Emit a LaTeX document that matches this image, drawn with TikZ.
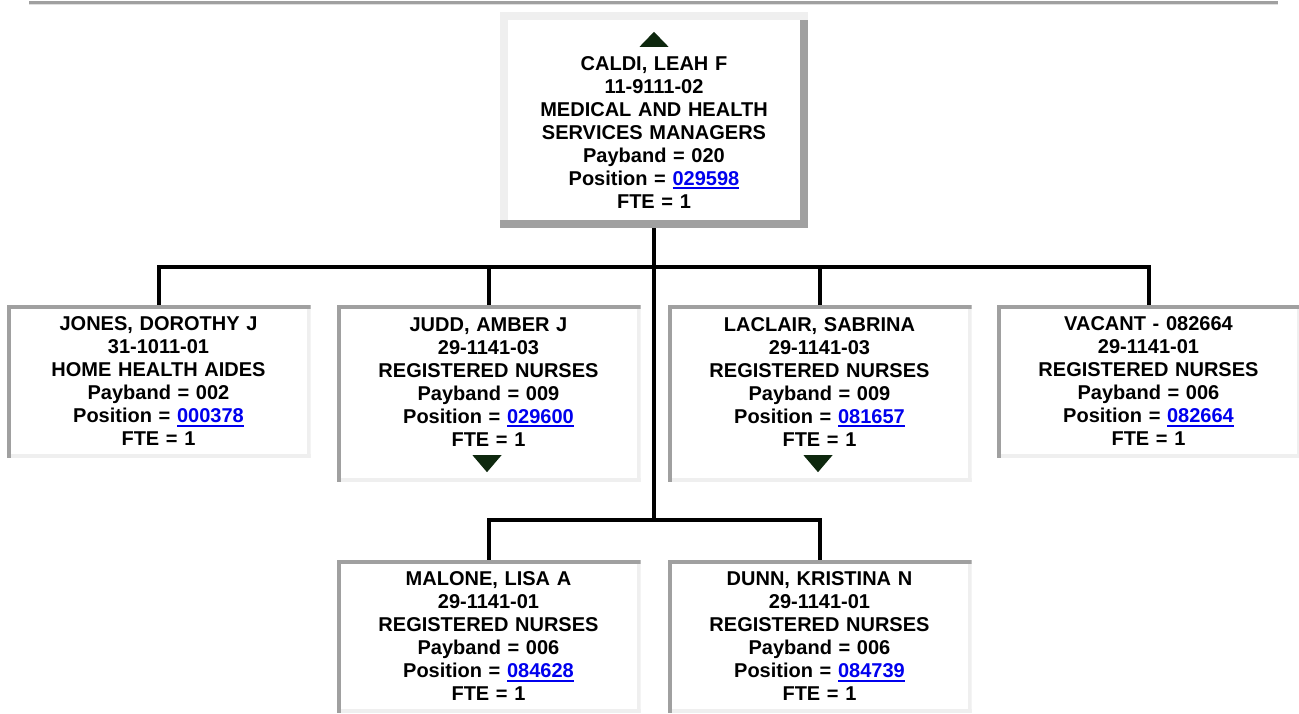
\documentclass[tikz,border=0pt]{standalone}
\usepackage{fontspec}
\setmainfont{Liberation Sans}
\definecolor{boxdark}{RGB}{160,160,160}
\definecolor{boxlight}{RGB}{239,239,239}
\definecolor{linkblue}{RGB}{0,0,238}
\definecolor{arrowgreen}{RGB}{14,40,14}
\newcommand\poslink[1]{\textcolor{linkblue}{\setbox0\hbox{#1}\rlap{\rule[-4pt]{\wd0}{2pt}}\box0}}
\tikzset{
	card/.style={fill=white, inner sep=0pt, text width=300pt, align=center, font=\bfseries\fontsize{20}{23}\selectfont},
	insetbox/.style={card, minimum width=304pt, minimum height=153pt,
		path picture={
			\fill[boxlight] (path picture bounding box.south west) rectangle ([yshift=4pt]path picture bounding box.south east);
			\fill[boxlight] ([xshift=-4pt]path picture bounding box.south east) rectangle (path picture bounding box.north east);
			\fill[boxdark] (path picture bounding box.north west) rectangle ([yshift=-4pt]path picture bounding box.north east);
			\fill[boxdark] (path picture bounding box.north west) rectangle ([xshift=4pt]path picture bounding box.south west);
		}},
	outsetbox/.style={card, minimum width=308pt, minimum height=216pt,
		path picture={
			\fill[boxdark] ([xshift=-8pt]path picture bounding box.south east) rectangle (path picture bounding box.north east);
			\fill[boxlight] (path picture bounding box.north west) rectangle ([yshift=-8pt]path picture bounding box.north east);
			\fill[boxlight] (path picture bounding box.north west) rectangle ([xshift=8pt]path picture bounding box.south west);
			\fill[boxdark] (path picture bounding box.south west) rectangle ([yshift=8pt]path picture bounding box.south east);
		}},
	conn/.style={line width=4pt},
	moretri/.style={fill=arrowgreen}
}
\begin{document}
\begin{tikzpicture}[x=1pt, y=-1pt]
	\useasboundingbox (0,0) rectangle (1299,713);
	\fill[boxdark] (29,1) rectangle (1278,4);
	\fill[boxlight!80!boxdark] (29,4) rectangle (1278,5);
	\node[outsetbox] (caldi) at (654,120) {\rule{0pt}{15pt}\\CALDI, LEAH F\\11-9111-02\\MEDICAL AND HEALTH\\SERVICES MANAGERS\\Payband = 020\\Position = \poslink{029598}\\FTE = 1};
	\node[insetbox] (jones) at (158.5,381.5) {JONES, DOROTHY J\\31-1011-01\\HOME HEALTH AIDES\\Payband = 002\\Position = \poslink{000378}\\FTE = 1};
	\node[insetbox, minimum height=177pt] (judd) at (488.5,393.5) {JUDD, AMBER J\\29-1141-03\\REGISTERED NURSES\\Payband = 009\\Position = \poslink{029600}\\FTE = 1\\\mbox{}};
	\node[insetbox, minimum height=177pt] (laclair) at (819.5,393.5) {LACLAIR, SABRINA\\29-1141-03\\REGISTERED NURSES\\Payband = 009\\Position = \poslink{081657}\\FTE = 1\\\mbox{}};
	\node[insetbox] (vacant) at (1148.5,381.5) {VACANT - 082664\\29-1141-01\\REGISTERED NURSES\\Payband = 006\\Position = \poslink{082664}\\FTE = 1};
	\node[insetbox] (malone) at (488.5,636.5) {MALONE, LISA A\\29-1141-01\\REGISTERED NURSES\\Payband = 006\\Position = \poslink{084628}\\FTE = 1};
	\node[insetbox] (dunn) at (819.5,636.5) {DUNN, KRISTINA N\\29-1141-01\\REGISTERED NURSES\\Payband = 006\\Position = \poslink{084739}\\FTE = 1};
	\coordinate (bus1) at (654,267);
	\coordinate (bus2) at (654,520);
	\draw[conn] (caldi.south) -- (bus2);
	\draw[conn] (jones.north) |- (bus1) -| (vacant.north);
	\draw[conn] (judd.north) -- (judd.north |- bus1);
	\draw[conn] (laclair.north) -- (laclair.north |- bus1);
	\draw[conn] (malone.north) |- (bus2) -| (dunn.north);
	\fill[moretri] ([xshift=-14.5pt,yshift=-35pt]caldi.north) -- ([xshift=14.5pt,yshift=-35pt]caldi.north) -- ([yshift=-20pt]caldi.north) -- cycle;
	\fill[moretri] ([xshift=-16pt,yshift=27pt]judd.south) -- ([xshift=13pt,yshift=27pt]judd.south) -- ([xshift=-1.5pt,yshift=10pt]judd.south) -- cycle;
	\fill[moretri] ([xshift=-16pt,yshift=27pt]laclair.south) -- ([xshift=13pt,yshift=27pt]laclair.south) -- ([xshift=-1.5pt,yshift=10pt]laclair.south) -- cycle;
\end{tikzpicture}
\end{document}
